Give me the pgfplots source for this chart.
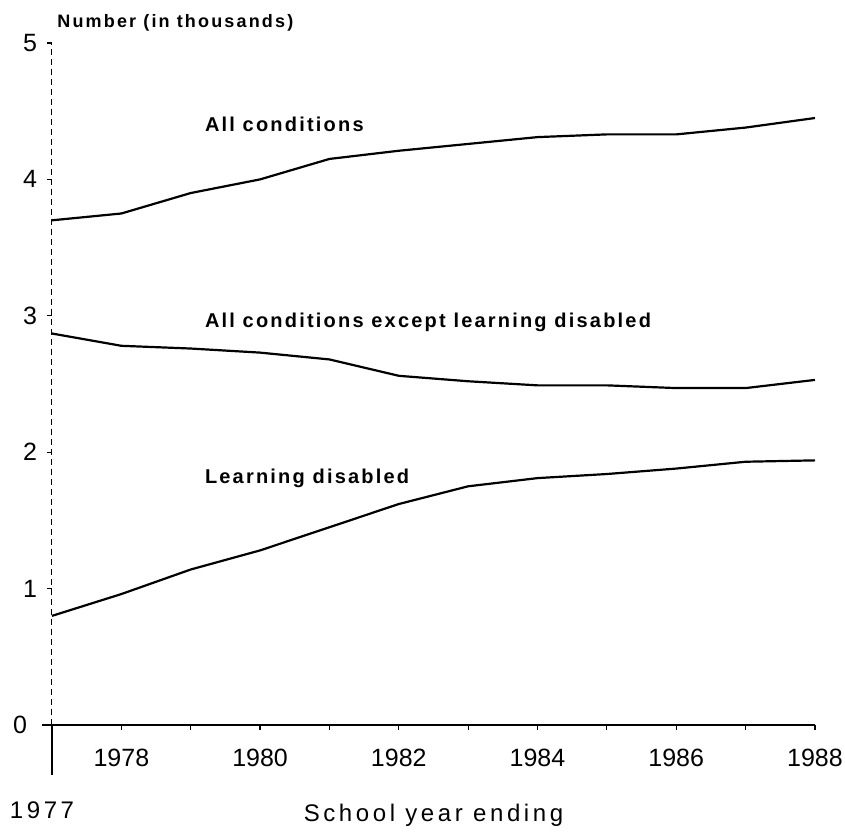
\documentclass[border=0pt]{standalone}
\usepackage{fontspec}
\setmainfont{Liberation Sans}
\usepackage{pgfplots}
\usepackage{pgfplotstable}
\pgfplotsset{compat=1.18}
\newcommand{\spaced}{\addfontfeature{LetterSpace=15}}
\newcommand{\boldspaced}{\bfseries\addfontfeature{LetterSpace=11}}

% number of children served, in thousands
\pgfplotstableread{
year all exld ld
1977 3.70 2.87 0.80
1978 3.75 2.78 0.96
1979 3.90 2.76 1.14
1980 4.00 2.73 1.28
1981 4.15 2.68 1.45
1982 4.21 2.56 1.62
1983 4.26 2.52 1.75
1984 4.31 2.49 1.81
1985 4.33 2.49 1.84
1986 4.33 2.47 1.88
1987 4.38 2.47 1.93
1988 4.45 2.53 1.94
}\served

\begin{document}
\begin{tikzpicture}
\begin{axis}[
 scale only axis,
 width=381.5pt, height=341pt,
 xmin=1977, xmax=1988, ymin=0, ymax=5,
 clip=false,
 axis x line*=bottom, axis y line*=left,
 x axis line style={line width=1pt},
 y axis line style={line width=0.5pt, densely dashed},
 tick align=outside,
 major tick length=2.5pt,
 tick style={black, line width=0.6pt, solid},
 /pgf/number format/assume math mode=true,
 xtick={1978,...,1988},
 xticklabels={1978,,1980,,1982,,1984,,1986,,1988},
 ytick={1,...,5},
 yticklabels={1,2,3,4,5},
 xticklabel style={font=\fontsize{12.5}{14}\selectfont, yshift=-6pt},
 yticklabel style={font=\fontsize{12.5}{14}\selectfont, xshift=-1.5pt},
 extra y ticks={0},
 extra y tick labels={0},
 extra y tick style={major tick length=5pt, tick style={line width=1pt, solid},
   yticklabel style={xshift=-2.5pt}},
 extra x ticks={1977},
 extra x tick labels={1977},
 extra x tick style={major tick length=25pt, tick style={line width=1.2pt},
   xticklabel style={font=\fontsize{12}{14}\selectfont\spaced, yshift=-4pt, xshift=-5pt}},
 xlabel={School year ending},
 xlabel style={font=\fontsize{12}{14}\selectfont\spaced,
   at={(axis description cs:0.5,0)}, anchor=center, yshift=-45pt},
]
\coordinate (O) at (axis cs:1977,0);
\addplot[black, line width=1.1pt] table[x=year, y=all] {\served};
\addplot[black, line width=1.1pt] table[x=year, y=exld] {\served};
\addplot[black, line width=1.1pt] table[x=year, y=ld] {\served};
\node[anchor=west, inner sep=0pt, xshift=2.5pt, yshift=10pt,
  font=\fontsize{9}{11}\selectfont\bfseries\addfontfeature{LetterSpace=12}]
  at (axis description cs:0,1) {Number (in thousands)};
\node[anchor=west, inner sep=0pt, font=\fontsize{10}{12}\selectfont\boldspaced]
  at (axis cs:1979.2,4.40) {All conditions};
\node[anchor=west, inner sep=0pt, font=\fontsize{10}{12}\selectfont\boldspaced]
  at (axis cs:1979.2,2.95) {All conditions except learning disabled};
\node[anchor=west, inner sep=0pt, font=\fontsize{10}{12}\selectfont\boldspaced]
  at (axis cs:1979.2,1.81) {Learning disabled};
\end{axis}
\pgfresetboundingbox
\path[use as bounding box] ([shift={(-26pt,-54pt)}]O) rectangle ([shift={(396.5pt,362.5pt)}]O);
\end{tikzpicture}
\end{document}
